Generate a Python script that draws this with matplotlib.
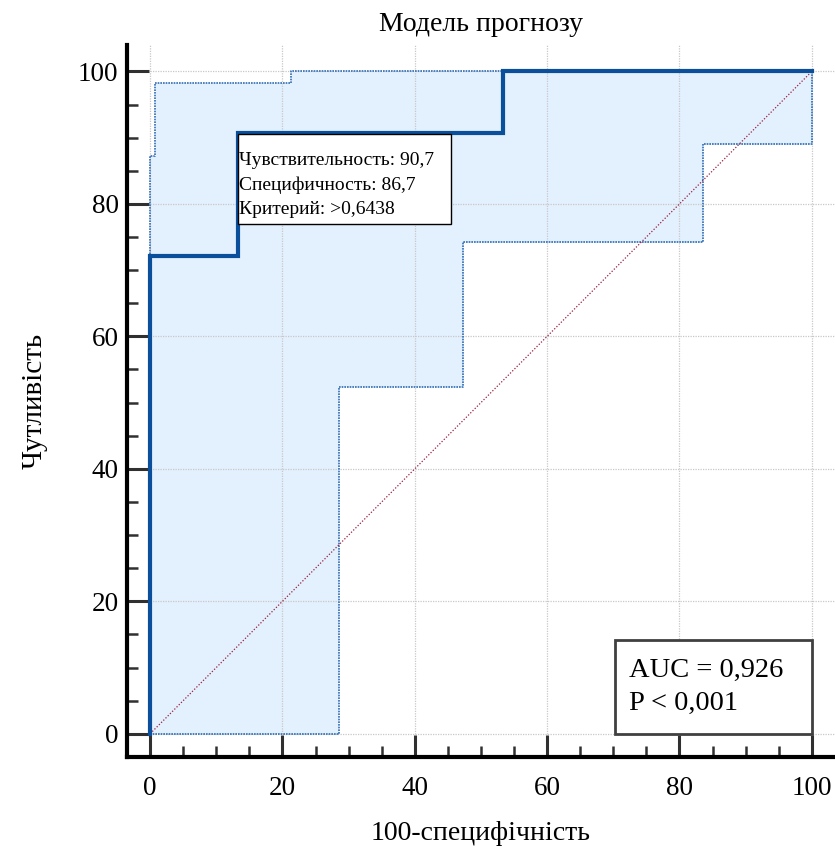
import numpy as np
import matplotlib
matplotlib.use('Agg')
import matplotlib.pyplot as plt
from matplotlib.patches import Rectangle
from matplotlib.ticker import MultipleLocator

# ROC-крива (100-специфічність, чутливість)
roc_x = [0, 0, 13.3, 13.3, 53.3, 53.3, 100]
roc_y = [0, 72.1, 72.1, 90.7, 90.7, 100, 100]

# верхня межа довірчого інтервалу
upper_x = [0, 0, 0.8, 0.8, 21.3, 21.3, 100]
upper_y = [0, 87.3, 87.3, 98.3, 98.3, 100, 100]

# нижня межа довірчого інтервалу
lower_x = [0, 28.5, 28.5, 47.3, 47.3, 83.5, 83.5, 100, 100]
lower_y = [0, 0, 52.4, 52.4, 74.2, 74.2, 89.0, 89.0, 100]

best_point = (13.3, 90.7)
info_lines = ["Чувствительность: 90,7", "Специфичность: 86,7", "Критерий: >0,6438"]
auc_lines = ["AUC = 0,926", "P < 0,001"]

plt.rcParams['font.family'] = ['Liberation Serif', 'DejaVu Serif']

fig = plt.figure(figsize=(8.35, 8.47), dpi=100)
ax = fig.add_axes([0.152, 0.1063, 0.848, 0.8407])
ax.set_xlim(-3.5, 103.5)
ax.set_ylim(-3.5, 104)

# довірча смуга: заливка між верхньою і нижньою межею
grid = np.linspace(0, 100, 2001)
up = np.interp(grid, upper_x[2:], upper_y[2:])
up[grid < upper_x[2]] = upper_y[1]
lo = np.zeros_like(grid)
for i in range(0, len(lower_x) - 1):
    if lower_x[i] != lower_x[i + 1]:
        seg = (grid >= lower_x[i]) & (grid <= lower_x[i + 1])
        lo[seg] = lower_y[i]
ax.fill_between(grid, lo, up, color='#e3f0fd', lw=0, zorder=1)

# сітка лише в межах даних
for v in range(0, 101, 20):
    ax.plot([v, v], [0, 104], color='#c8c8c8', lw=0.9, ls=(0, (1, 1)), zorder=2)
    ax.plot([0, 103.5], [v, v], color='#c8c8c8', lw=0.9, ls=(0, (1, 1)), zorder=2)

ax.plot(upper_x, upper_y, color='#2f6db5', lw=1.2, ls=(0, (1, 0.6)), zorder=3)
ax.plot(lower_x, lower_y, color='#2f6db5', lw=1.2, ls=(0, (1, 0.6)), zorder=3)

# діагональ
ax.plot([0, 100], [0, 100], color='#9a2040', lw=0.9, ls=(0, (1, 1.5)), zorder=3)

# ROC-крива
ax.plot(roc_x, roc_y, color='#0a4f9c', lw=3, zorder=4, solid_joinstyle='miter')

# інформаційна рамка біля оптимальної точки
ax.add_patch(Rectangle((best_point[0], best_point[1] - 13.8), 32.2, 13.6,
                       fc='white', ec='black', lw=1, zorder=5))
ax.text(best_point[0] + 0.2, best_point[1] - 2.9, "\n".join(info_lines),
        ha='left', va='top', fontsize=14, linespacing=1.55, zorder=6)

# AUC
ax.add_patch(Rectangle((70.2, 0), 29.8, 14.2, fc='white', ec='#404040', lw=2, zorder=5))
ax.text(72.4, 7.1, "\n".join(auc_lines), ha='left', va='center', fontsize=20.5,
        linespacing=1.4, zorder=6)

for s in ['top', 'right']:
    ax.spines[s].set_visible(False)
for s in ['left', 'bottom']:
    ax.spines[s].set_linewidth(3)
    ax.spines[s].set_color('black')

ax.xaxis.set_major_locator(MultipleLocator(20))
ax.yaxis.set_major_locator(MultipleLocator(20))
ax.set_xticks([t for t in np.arange(0, 101, 5) if t % 20], minor=True)
ax.set_yticks([t for t in np.arange(0, 101, 5) if t % 20], minor=True)
ax.set_xticks(range(0, 101, 20))
ax.set_yticks(range(0, 101, 20))
ax.tick_params(which='major', direction='in', length=16, width=2.2, color='#303030',
               labelsize=19.5)
ax.tick_params(which='minor', direction='in', length=8, width=1.8, color='#303030')
ax.tick_params(axis='y', pad=6)
ax.tick_params(axis='x', pad=14)

ax.set_title("Модель прогнозу", fontsize=20, pad=10)
ax.set_xlabel("100-специфічність", fontsize=20, labelpad=14)
ax.set_ylabel("Чутливість", fontsize=21, labelpad=22)

plt.savefig('out.png', dpi=100)
